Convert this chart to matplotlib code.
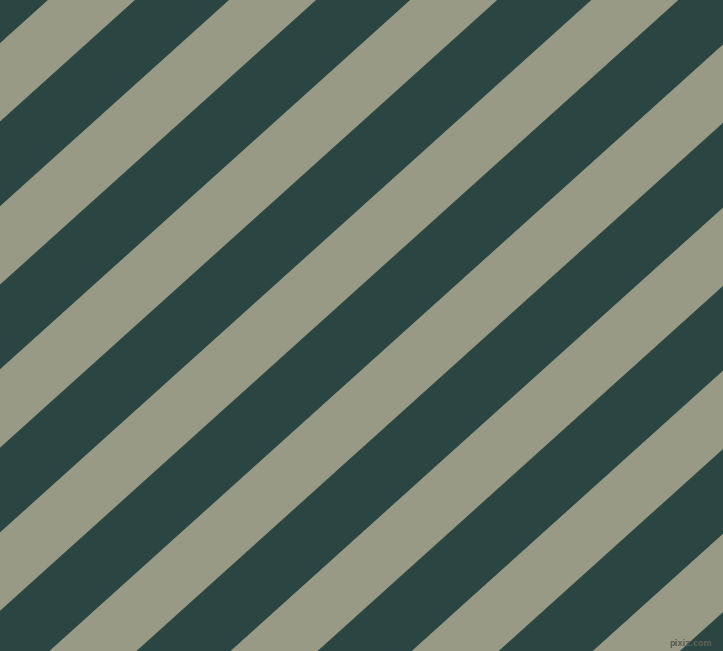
import numpy as np
import matplotlib
matplotlib.use("Agg")
import matplotlib.pyplot as plt

# stripe pattern
width_px, height_px = 723, 651
angle_deg = 42.0                 # stripes rise to the right
stripe_colors = ["#2b4642", "#989a85"]   # dark, grey
stripe_widths = [63.0, 58.2]     # perpendicular widths (px)
first_edge = 32.5                # perpendicular offset of first dark->grey edge
watermark = "pixiz.com"

fig = plt.figure(figsize=(width_px / 100, height_px / 100), dpi=100)
ax = fig.add_axes([0, 0, 1, 1])
ax.set_xlim(0, width_px)
ax.set_ylim(height_px, 0)
ax.axis("off")

t = np.radians(angle_deg)
n = np.array([np.sin(t), np.cos(t)])    # across the stripes
d = np.array([np.cos(t), -np.sin(t)])   # along the stripes
span = 2000

u_max = width_px * n[0] + height_px * n[1]
period = sum(stripe_widths)
u = first_edge - stripe_widths[0]
i = 0
while u < u_max + period:
    w = stripe_widths[i % 2]
    u0, u1 = u, u + w
    corners = [u0 * n - span * d, u0 * n + span * d,
               u1 * n + span * d, u1 * n - span * d]
    xs = [c[0] for c in corners]
    ys = [c[1] for c in corners]
    ax.fill(xs, ys, color=stripe_colors[i % 2], lw=0.6,
            edgecolor=stripe_colors[i % 2])
    u = u1
    i += 1

ax.text(width_px - 11, height_px - 5, watermark, fontsize=5.8,
        color="#5e6055", ha="right", va="baseline", family="DejaVu Sans",
        fontweight="bold")

fig.savefig("out.png", dpi=100)
